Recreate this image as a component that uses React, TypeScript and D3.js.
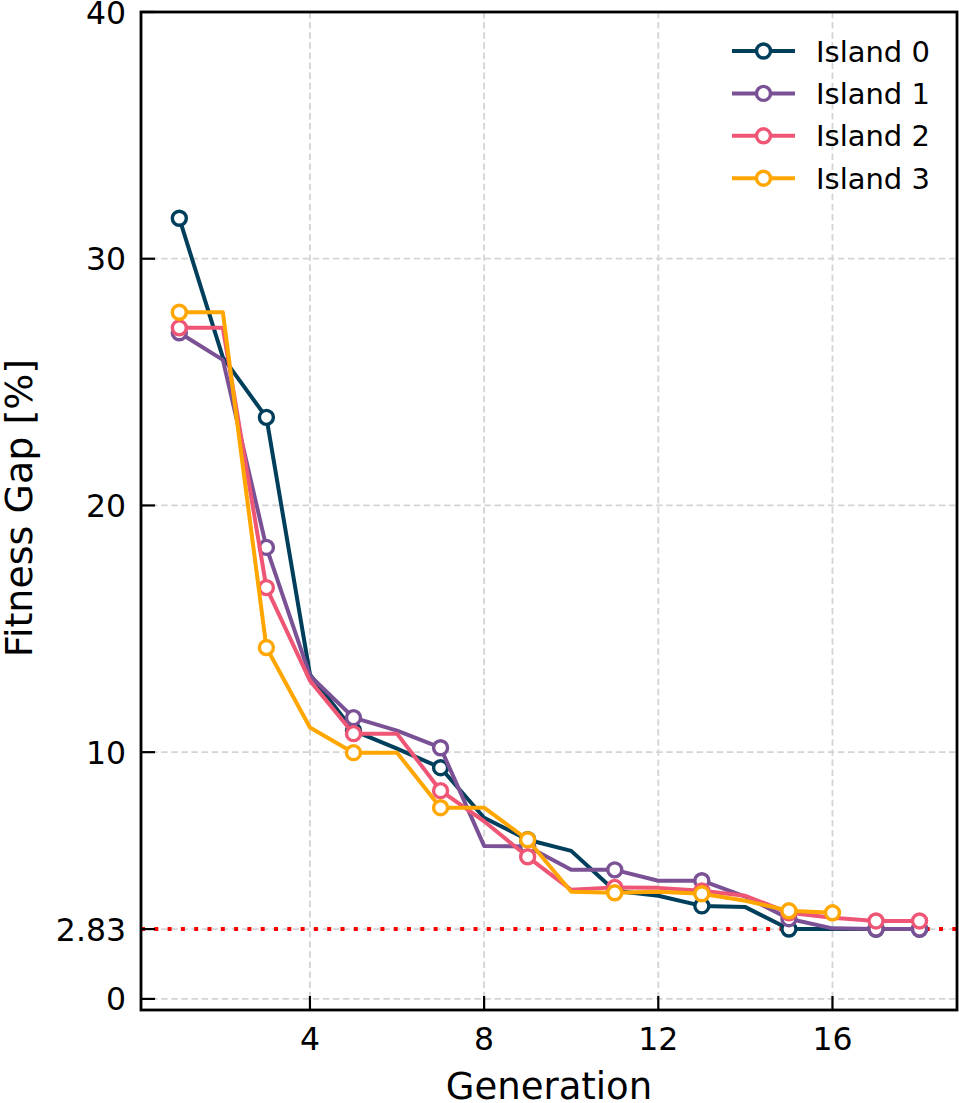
import React from "react";
import * as d3 from "d3";

// Fitness gap per generation for each island of the evolutionary run
const generations = d3.range(1, 19);
const island0 = [31.64, 26.0, 23.57, 13.15, 10.87, 10.14, 9.37, 7.34, 6.45, 6.0, 4.38, 4.18, 3.77, 3.72, 2.83, 2.83, 2.83, 2.83];
const island1 = [27.0, 25.9, 18.3, 13.1, 11.4, 10.87, 10.18, 6.2, 6.18, 5.23, 5.23, 4.79, 4.79, 4.15, 3.25, 2.86, 2.83, 2.83];
const island2 = [27.2, 27.2, 16.67, 12.9, 10.75, 10.75, 8.44, 7.2, 5.76, 4.42, 4.52, 4.5, 4.38, 4.18, 3.49, 3.29, 3.16, 3.16];
const island3 = [27.83, 27.83, 14.24, 11.0, 9.98, 9.98, 7.75, 7.75, 6.45, 4.34, 4.3, 4.34, 4.26, 3.98, 3.57, 3.49];

const seriesNames = ["Island 0", "Island 1", "Island 2", "Island 3"];
const seriesValues = [island0, island1, island2, island3];
const seriesColors = ["#003f5c", "#7a5195", "#ef5675", "#ffa600"];

const bestGap = 2.83;
const xTicks = [4, 8, 12, 16];
const yTicks = [0, bestGap, 10, 20, 30, 40];

const W = 959;
const H = 1103;
const plot = { left: 141, right: 957, top: 12, bottom: 1010 };
const font = "DejaVu Sans, sans-serif";

export default function App() {
  const x = d3.scaleLinear().domain([0.12, 18.86]).range([plot.left, plot.right]);
  const y = d3.scaleLinear().domain([-0.45, 40]).range([plot.bottom, plot.top]);
  const line = d3
    .line<[number, number]>()
    .x((d) => x(d[0]))
    .y((d) => y(d[1]));

  const tickLabel = (v: number) => (v === bestGap ? "2.83" : String(v));

  return (
    <svg
      width={W}
      height={H}
      viewBox={`0 0 ${W} ${H}`}
      style={{ position: "absolute", left: 0, top: 0, background: "#fff" }}
      fontFamily={font}
    >
      <rect x={0} y={0} width={W} height={H} fill="#fff" />

      {/* grid */}
      <g stroke="#d4d4d4" strokeWidth={1.8} strokeDasharray="6.5,3.6">
        {xTicks.map((t) => (
          <line key={`gx${t}`} x1={x(t)} x2={x(t)} y1={plot.top} y2={plot.bottom} />
        ))}
        {yTicks.map((t) => (
          <line key={`gy${t}`} x1={plot.left} x2={plot.right} y1={y(t)} y2={y(t)} />
        ))}
      </g>

      {/* best known gap reference */}
      <line
        x1={plot.left}
        x2={plot.right}
        y1={y(bestGap)}
        y2={y(bestGap)}
        stroke="#ff0000"
        strokeWidth={4}
        strokeDasharray="4,9.3"
      />

      {/* island curves */}
      {seriesValues.map((vals, si) => {
        const pts: [number, number][] = vals.map((v, i) => [generations[i], v]);
        const marked = pts.filter((_, i) => i % 2 === 0 || i === pts.length - 1);
        return (
          <g key={seriesNames[si]}>
            <path d={line(pts) || ""} fill="none" stroke={seriesColors[si]} strokeWidth={4} strokeLinejoin="round" />
            {marked.map((p, i) => (
              <circle
                key={i}
                cx={x(p[0])}
                cy={y(p[1])}
                r={7}
                fill="#fff"
                stroke={seriesColors[si]}
                strokeWidth={3.4}
              />
            ))}
          </g>
        );
      })}

      {/* ticks (inward) */}
      <g stroke="#000" strokeWidth={2.2}>
        {xTicks.map((t) => (
          <line key={`tx${t}`} x1={x(t)} x2={x(t)} y1={plot.bottom} y2={plot.bottom - 14} />
        ))}
        {yTicks.map((t) => (
          <line key={`ty${t}`} x1={plot.left} x2={plot.left + 14} y1={y(t)} y2={y(t)} />
        ))}
      </g>

      {/* frame */}
      <rect
        x={plot.left}
        y={plot.top}
        width={plot.right - plot.left}
        height={plot.bottom - plot.top}
        fill="none"
        stroke="#000"
        strokeWidth={2.8}
      />

      {/* tick labels */}
      <g fontSize={31.5} fill="#000">
        {xTicks.map((t) => (
          <text key={`lx${t}`} x={x(t)} y={1050} textAnchor="middle">
            {t}
          </text>
        ))}
        {yTicks.map((t) => (
          <text key={`ly${t}`} x={126} y={y(t) + 11.5} textAnchor="end">
            {tickLabel(t)}
          </text>
        ))}
      </g>

      {/* axis titles */}
      <text x={(plot.left + plot.right) / 2} y={1099} fontSize={37} textAnchor="middle" fill="#000">
        Generation
      </text>
      <text
        transform={`translate(${32},${508}) rotate(-90)`}
        fontSize={38}
        textAnchor="middle"
        fill="#000"
      >
        Fitness Gap [%]
      </text>

      {/* legend */}
      <g>
        {seriesNames.map((name, i) => {
          const ly = 51 + i * 42.4;
          return (
            <g key={name}>
              <line x1={732} x2={795} y1={ly} y2={ly} stroke={seriesColors[i]} strokeWidth={4} />
              <circle cx={763.5} cy={ly} r={7} fill="#fff" stroke={seriesColors[i]} strokeWidth={3.4} />
              <text x={816} y={ly + 10.5} fontSize={29} fill="#000">
                {name}
              </text>
            </g>
          );
        })}
      </g>
    </svg>
  );
}
